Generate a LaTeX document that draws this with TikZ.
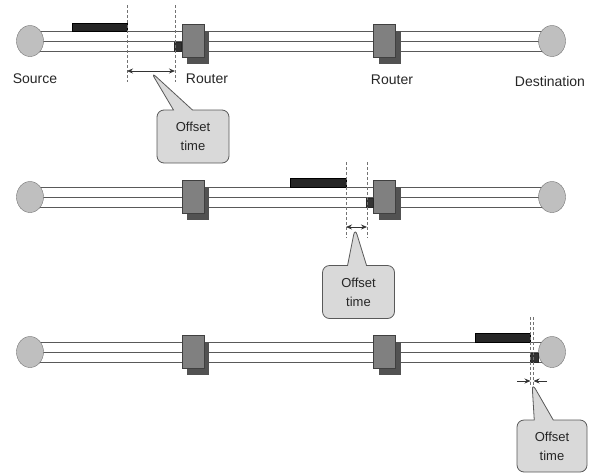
\documentclass[tikz,border=0pt]{standalone}
\usepackage{fontspec}
\setmainfont{Liberation Sans}
\usepackage{tikz}
\usetikzlibrary{arrows.meta,positioning,backgrounds,shadows,shapes.geometric,shapes.callouts}
\tikzset{
  host/.style={ellipse, draw=black!55, fill=black!25, minimum width=27pt,
               minimum height=31pt, inner sep=0pt},
  router/.style={rectangle, draw=black!75, fill=black!50, minimum width=22pt,
                 minimum height=33pt, inner sep=0pt,
                 drop shadow={shadow xshift=5pt, shadow yshift=-6pt, fill=black!68, opacity=1}},
  burst/.style={rectangle, draw=black, fill=black!85, minimum width=55pt,
                minimum height=8pt, inner sep=0pt},
  ctrl/.style={rectangle, draw=black!85, fill=black!80, minimum width=7pt,
               minimum height=9pt, inner sep=0pt},
  pipe/.style={draw=black!65, line width=1pt},
  cut/.style={draw=black!55, dash pattern=on 3pt off 2pt, line width=0.7pt},
  span/.style={-{Stealth[length=6pt,width=5pt]}, draw=black!80, line width=0.8pt},
  span2/.style={{Stealth[length=6pt,width=5pt]}-{Stealth[length=6pt,width=5pt]},
                draw=black!80, line width=0.8pt},
  note/.style={rectangle callout, rounded corners=7pt, draw=black!65, line width=0.8pt,
               fill=black!15, align=center, minimum width=72pt, minimum height=53pt,
               callout pointer width=19pt, text=black!85,
               font=\fontsize{13}{19}\selectfont},
  lbl/.style={font=\fontsize{14}{16}\selectfont, text=black!85},
}
\begin{document}
\begin{tikzpicture}[x=1pt, y=-1pt]
\useasboundingbox (0,0) rectangle (596,474);

% hosts and routers, same in every row
\foreach \r/\y in {1/41, 2/197, 3/352} {
  \node[host] (src\r) at (30,\y) {};
  \node[host] (dst\r) at (552,\y) {};
  \node[router] (ra\r) at (193,\y) {};
  \node[router] (rb\r) at (384.5,\y) {};
}
\begin{scope}[on background layer]
  \foreach \r in {1,2,3}
    \foreach \d in {-10,0,10}
      \draw[pipe] ([yshift=\d pt]src\r.center) -- ([yshift=\d pt]dst\r.center);
\end{scope}

\node[lbl] (lsrc) at (35,79) {Source};
\node[lbl] (lra) at (207,79) {Router};
\node[lbl] (lrb) at (392,80) {Router};
\node[lbl] (ldst) at (550,81) {Destination};

% row 1
\node[burst, anchor=south east] (b1) at (127,31) {};
\node[ctrl, anchor=south east] (c1) at ([yshift=-10pt]ra1.west) {};
\coordinate (t1a) at (127,5);   \coordinate (u1a) at (127,82);
\coordinate (t1b) at (175,5);   \coordinate (u1b) at (175,82);
\coordinate (m1a) at (127,71);  \coordinate (m1b) at (175,71);
\coordinate (p1) at (151,72);
\draw[cut] (t1a) -- (u1a);
\draw[cut] (t1b) -- (u1b);
\draw[span2] (m1a) -- (m1b);
\node[note, callout absolute pointer={(p1)}] (n1) at (193,136.5) {Offset\\time};

% row 2
\node[burst, anchor=south east, minimum width=56pt, minimum height=9pt] (b2) at (346,187) {};
\node[ctrl, anchor=south east] (c2) at ([yshift=-10pt]rb2.west) {};
\coordinate (t2a) at (346,162);  \coordinate (u2a) at (346,238);
\coordinate (t2b) at (367,162);  \coordinate (u2b) at (367,238);
\coordinate (m2a) at (346,227);  \coordinate (m2b) at (367,227);
\coordinate (p2) at (355,228);
\draw[cut] (t2a) -- (u2a);
\draw[cut] (t2b) -- (u2b);
\draw[span2] (m2a) -- (m2b);
\node[note, callout absolute pointer={(p2)}] (n2) at (358.5,292) {Offset\\time};

% row 3
\node[burst, anchor=south east, minimum height=9pt] (b3) at (530,342) {};
\node[ctrl, anchor=south east, minimum width=8pt] (c3) at ([yshift=-10pt]dst3.west) {};
\coordinate (t3a) at (530.5,317);  \coordinate (u3a) at (530.5,387);
\coordinate (t3b) at (533.5,317);  \coordinate (u3b) at (533.5,387);
\coordinate (m3a) at (530.5,381);  \coordinate (m3b) at (533.5,381);
\coordinate (l3) at (517,381);     \coordinate (r3) at (547,381);
\coordinate (p3) at (532,383);
\draw[cut] (t3a) -- (u3a);
\draw[cut] (t3b) -- (u3b);
\draw[span] (l3) -- (m3a);
\draw[span] (r3) -- (m3b);
\node[note, callout absolute pointer={(p3)}, minimum width=70pt, minimum height=52pt] (n3) at (552,446) {Offset\\time};
\end{tikzpicture}
\end{document}
